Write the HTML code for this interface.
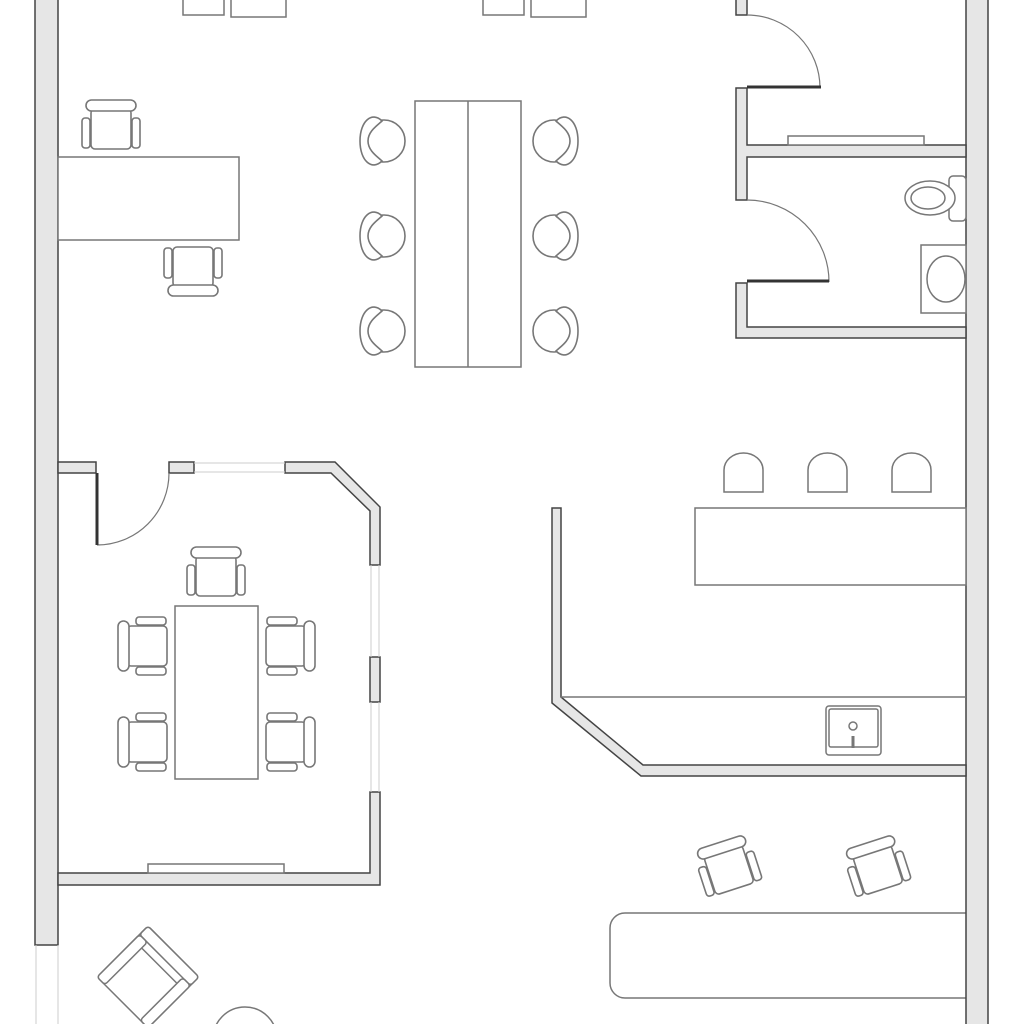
<!DOCTYPE html>
<html><head><meta charset="utf-8"><style>html,body{margin:0;padding:0;background:#fff}svg{display:block}</style></head>
<body>
<svg width="1024" height="1024" viewBox="0 0 1024 1024" xmlns="http://www.w3.org/2000/svg">
<defs>
<g id="oc" fill="#fff" stroke="#777" stroke-width="1.6">
<rect x="-20" y="-17" width="40" height="40" rx="4"/>
<rect x="-25" y="-26" width="50" height="11" rx="5.5"/>
<rect x="-29" y="-8" width="8" height="30" rx="3"/>
<rect x="21" y="-8" width="8" height="30" rx="3"/>
</g>
<g id="dc" fill="#fff" stroke="#777" stroke-width="1.6">
<circle cx="0" cy="0" r="21"/>
<path d="M-2,-20 C-12,-30 -24,-20 -24,0 C-24,20 -12,30 -2,20 C-6,16 -16,10 -16,0 C-16,-10 -6,-16 -2,-20 Z"/>
</g>
</defs>
<!-- furniture under walls -->
<g fill="#fff" stroke="#777" stroke-width="1.5">
<path d="M966,913 L625,913 A15,15 0 0 0 610,928 L610,983 A15,15 0 0 0 625,998 L966,998"/>
</g>
<g fill="#e6e6e6" stroke="#444" stroke-width="1.5">
<rect x="35" y="-2" width="23" height="947"/>
<rect x="966" y="-2" width="22" height="1030"/>
<rect x="58" y="462" width="38" height="11"/>
<rect x="169" y="462" width="25" height="11"/>
<path d="M285,462 L335,462 L380,507 L380,565 L370,565 L370,511 L331,473 L285,473 Z"/>
<rect x="370" y="657" width="10" height="45"/>
<path d="M370,792 L380,792 L380,885 L58,885 L58,873 L370,873 Z"/>
<rect x="736" y="-2" width="11" height="17"/>
<path d="M736,88 L747,88 L747,145 L966,145 L966,157 L747,157 L747,200 L736,200 Z"/>
<path d="M736,283 L747,283 L747,327 L966,327 L966,338 L736,338 Z"/>
<path d="M552,508 L561,508 L561,697 L643,765 L966,765 L966,776 L641,776 L552,703 Z"/>
</g>
<g stroke="#ccc" stroke-width="1" fill="none">
<line x1="194" y1="463" x2="285" y2="463"/><line x1="194" y1="472" x2="285" y2="472"/>
<line x1="371" y1="565" x2="371" y2="657"/><line x1="379" y1="565" x2="379" y2="657"/>
<line x1="371" y1="702" x2="371" y2="792"/><line x1="379" y1="702" x2="379" y2="792"/>
<line x1="36" y1="945" x2="36" y2="1024"/><line x1="58" y1="945" x2="58" y2="1024"/>
</g>
<g fill="none" stroke="#777" stroke-width="1.2">
<path d="M747,15 A73,73 0 0 1 820,88"/>
<path d="M747,200 A82,82 0 0 1 829,282"/>
<path d="M169,473 A72,72 0 0 1 97,545"/>
</g>
<g stroke="#333" stroke-width="3">
<line x1="747" y1="87" x2="821" y2="87"/>
<line x1="747" y1="281" x2="829" y2="281"/>
<line x1="97" y1="473" x2="97" y2="545"/>
</g>
<g fill="#fff" stroke="#777" stroke-width="1.5">
<rect x="183" y="-2" width="41" height="17"/>
<rect x="231" y="-2" width="55" height="19"/>
<rect x="483" y="-2" width="41" height="17"/>
<rect x="531" y="-2" width="55" height="19"/>
<rect x="58" y="157" width="181" height="83"/>
<rect x="415" y="101" width="106" height="266"/>
<line x1="468" y1="101" x2="468" y2="367"/>
<rect x="788" y="136" width="136" height="9"/>
<rect x="949" y="176" width="17" height="45" rx="4"/>
<ellipse cx="930" cy="198" rx="25" ry="17"/>
<ellipse cx="928" cy="198" rx="17" ry="11"/>
<rect x="921" y="245" width="45" height="68"/>
<ellipse cx="946" cy="279" rx="19" ry="23"/>
<rect x="148" y="864" width="136" height="9"/>
<rect x="175" y="606" width="83" height="173"/>
<path d="M724,492 L724,470 A19.5,17 0 0 1 763,470 L763,492 Z"/>
<path d="M808,492 L808,470 A19.5,17 0 0 1 847,470 L847,492 Z"/>
<path d="M892,492 L892,470 A19.5,17 0 0 1 931,470 L931,492 Z"/>
<rect x="695" y="508" width="271" height="77"/>
<line x1="561" y1="697" x2="966" y2="697"/>
<rect x="826" y="706" width="55" height="49" rx="3"/>
<rect x="829" y="709" width="49" height="38" rx="2"/>
<circle cx="853" cy="726" r="4"/>
<circle cx="245" cy="1039" r="32"/>
</g>
<line x1="853" y1="736" x2="853" y2="748" stroke="#777" stroke-width="3"/>
<use href="#oc" transform="translate(111,126)"/>
<use href="#oc" transform="translate(193,270) rotate(180)"/>
<use href="#oc" transform="translate(216,573)"/>
<use href="#oc" transform="translate(144,646) rotate(-90)"/>
<use href="#oc" transform="translate(289,646) rotate(90)"/>
<use href="#oc" transform="translate(144,742) rotate(-90)"/>
<use href="#oc" transform="translate(289,742) rotate(90)"/>
<use href="#oc" transform="translate(728,867) rotate(-18)"/>
<use href="#oc" transform="translate(877,867) rotate(-18)"/>
<use href="#dc" transform="translate(384,141)"/>
<use href="#dc" transform="translate(384,236)"/>
<use href="#dc" transform="translate(384,331)"/>
<use href="#dc" transform="translate(554,141) scale(-1,1)"/>
<use href="#dc" transform="translate(554,236) scale(-1,1)"/>
<use href="#dc" transform="translate(554,331) scale(-1,1)"/>
<g transform="translate(148,977) rotate(45)" fill="#fff" stroke="#777" stroke-width="1.5">
<rect x="-36" y="-36" width="72" height="72" rx="3"/>
<rect x="-36" y="-36" width="72" height="12" rx="3"/>
<rect x="-36" y="-24" width="11" height="60" rx="3"/>
<rect x="25" y="-24" width="11" height="60" rx="3"/>
<line x1="-25" y1="-16" x2="25" y2="-16"/>
</g>
</svg>
</body></html>
